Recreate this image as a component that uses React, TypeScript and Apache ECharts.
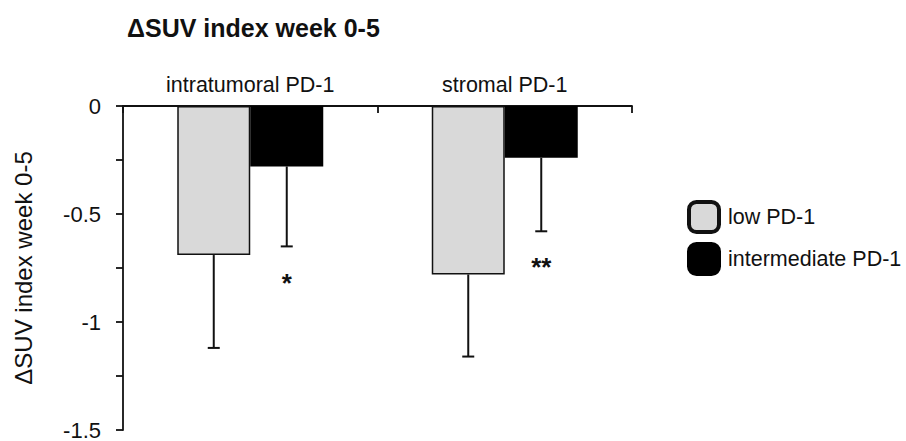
import React, { useEffect, useRef } from "react";
import * as echarts from "echarts";

const categories = ["intratumoral PD-1", "stromal PD-1"];
const seriesNames = ["low PD-1", "intermediate PD-1"];
const lowValues = [-0.69, -0.78];
const lowErrors = [0.43, 0.38];
const intermediateValues = [-0.28, -0.24];
const intermediateErrors = [0.37, 0.34];
const significance = ["*", "**"];
const significancePos = [-0.82, -0.745];
const yLabelValues = [0, -0.5, -1, -1.5];
const titleText = "ΔSUV index week 0-5";
const yAxisName = "ΔSUV index week 0-5";

const FONT = "'Liberation Sans', Arial, Helvetica, sans-serif";
const INK = "#111111";
const LIGHT = "#d9d9d9";
const BAR_WIDTH = 73;

function errorRenderer(sign: number) {
  return (params: any, api: any) => {
    const i = api.value(0);
    const v = api.value(1);
    const e = api.value(2);
    const top = api.coord([i, v]);
    const bot = api.coord([i, v - e]);
    const x = top[0] + (sign * BAR_WIDTH) / 2;
    return {
      type: "group",
      children: [
        {
          type: "line",
          shape: { x1: x, y1: top[1], x2: x, y2: bot[1] },
          style: { stroke: INK, lineWidth: 2 },
        },
        {
          type: "line",
          shape: { x1: x - 6, y1: bot[1], x2: x + 6, y2: bot[1] },
          style: { stroke: INK, lineWidth: 2 },
        },
      ],
    };
  };
}

export default function App() {
  const ref = useRef<HTMLDivElement>(null);
  useEffect(() => {
    document.body.style.margin = "0";
    if (!ref.current) return;
    const chart = echarts.init(ref.current, null, { renderer: "svg" });
    chart.setOption({
      animation: false,
      backgroundColor: "#ffffff",
      title: {
        text: titleText,
        left: 127,
        top: 15,
        padding: 0,
        textStyle: { fontSize: 25, fontWeight: "bold", fontFamily: FONT, color: INK },
      },
      legend: {
        orient: "vertical",
        left: 687,
        top: 200,
        padding: 0,
        itemWidth: 30,
        itemHeight: 30,
        itemGap: 8,
        icon: "roundRect",
        textStyle: { fontSize: 21.5, fontFamily: FONT, color: INK, padding: [0, 0, 0, 4] },
        data: [
          { name: seriesNames[0], itemStyle: { color: LIGHT, borderColor: INK, borderWidth: 4 } },
          { name: seriesNames[1], itemStyle: { color: "#000", borderColor: "#000", borderWidth: 4 } },
        ],
      },
      grid: { left: 123, right: 274, top: 106, bottom: 9, containLabel: false },
      xAxis: {
        type: "category",
        data: categories,
        position: "top",
        axisLine: { onZero: false, lineStyle: { color: INK, width: 1.8 } },
        axisTick: { show: true, inside: true, length: 7, lineStyle: { color: INK, width: 1.8 } },
        axisLabel: { fontSize: 21.5, fontFamily: FONT, color: INK, margin: 10 },
        splitLine: { show: false },
      },
      yAxis: {
        type: "value",
        min: -1.5,
        max: 0,
        interval: 0.25,
        name: yAxisName,
        nameLocation: "middle",
        nameGap: 88,
        nameTextStyle: { fontSize: 24, fontFamily: FONT, color: INK },
        axisLine: { show: true, lineStyle: { color: INK, width: 1.8 } },
        axisTick: { show: true, length: 7, lineStyle: { color: INK, width: 1.8 } },
        axisLabel: {
          fontSize: 22,
          fontFamily: FONT,
          color: INK,
          margin: 22,
          formatter: (v: number) => (yLabelValues.some((t) => Math.abs(t - v) < 1e-9) ? String(v) : ""),
        },
        splitLine: { show: false },
      },
      series: [
        {
          name: seriesNames[0],
          type: "bar",
          data: lowValues,
          barWidth: BAR_WIDTH,
          barGap: "0%",
          itemStyle: { color: LIGHT, borderColor: INK, borderWidth: 1.5 },
        },
        {
          name: seriesNames[1],
          type: "bar",
          data: intermediateValues,
          barWidth: BAR_WIDTH,
          barGap: "0%",
          itemStyle: { color: "#000", borderColor: "#000", borderWidth: 1.5 },
        },
        {
          name: "err-low",
          type: "custom",
          renderItem: errorRenderer(-1),
          data: lowValues.map((v, i) => [i, v, lowErrors[i]]),
          z: 5,
          silent: true,
        },
        {
          name: "err-int",
          type: "custom",
          renderItem: errorRenderer(1),
          data: intermediateValues.map((v, i) => [i, v, intermediateErrors[i]]),
          z: 5,
          silent: true,
        },
        {
          name: "sig",
          type: "custom",
          silent: true,
          z: 6,
          data: significancePos.map((p, i) => [i, p]),
          renderItem: (params: any, api: any) => {
            const pt = api.coord([api.value(0), api.value(1)]);
            return {
              type: "text",
              x: pt[0] + BAR_WIDTH / 2,
              y: pt[1],
              style: {
                text: significance[params.dataIndex],
                fontSize: 26,
                fontWeight: "bold",
                fontFamily: FONT,
                fill: INK,
                align: "center",
                verticalAlign: "middle",
              },
            };
          },
        },
      ],
    });
    return () => chart.dispose();
  }, []);
  return (
    <div
      ref={ref}
      style={{ position: "fixed", left: 0, top: 0, width: 906, height: 441, background: "#fff" }}
    />
  );
}
